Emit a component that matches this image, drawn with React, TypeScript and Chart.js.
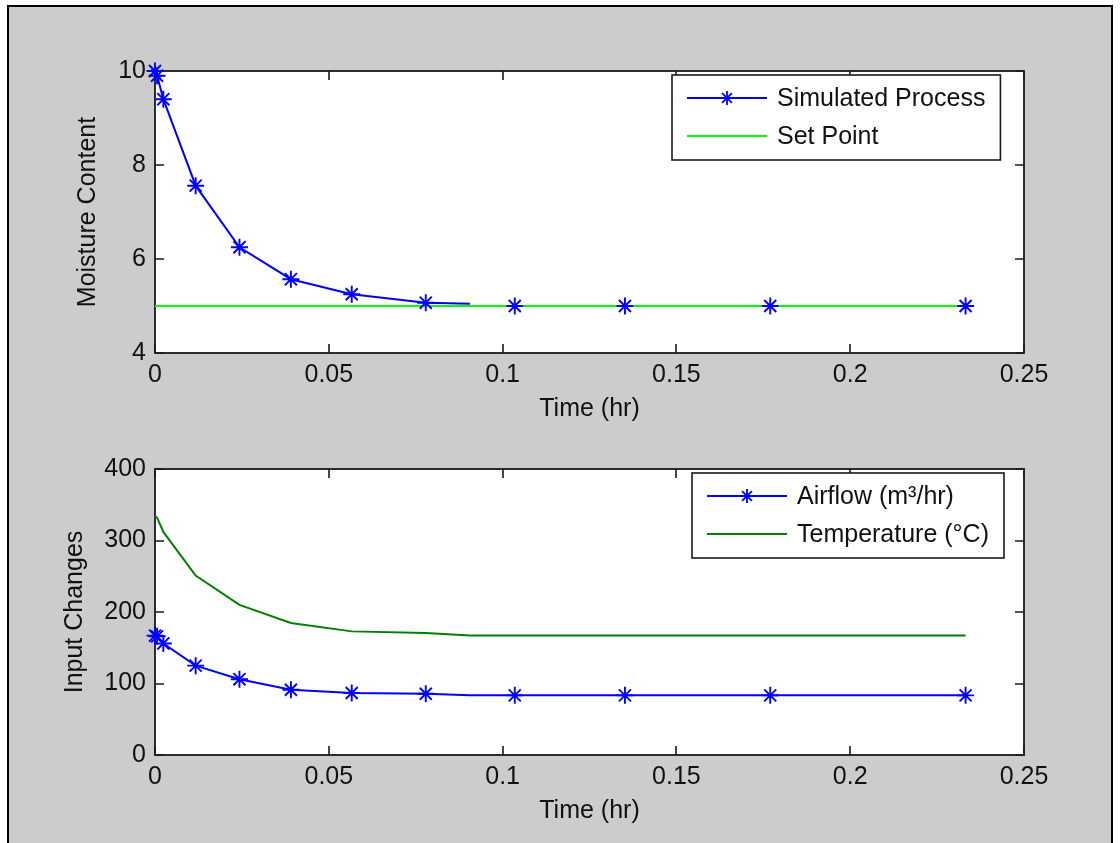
import React, { useEffect, useRef } from 'react';
import { Chart, registerables } from 'chart.js';

Chart.register(...registerables);

// ---------------- data ----------------
const timeHr = [0, 0.0006, 0.0024, 0.0117, 0.0243, 0.0391, 0.0566, 0.0779, 0.0906, 0.1035, 0.1352, 0.177, 0.2332];
const moistureContent = [10, 9.9, 9.4, 7.56, 6.25, 5.57, 5.25, 5.07, 5.05, 5.0, 5.0, 5.0, 5.0];
const markerShown = [true, true, true, true, true, true, true, true, false, true, true, true, true];
const processLineEnd = 0.0906;
const setPointTime = [0, 0.2332];
const setPointValue = [5, 5];
const airflow = [167, 166, 156, 125, 106, 91.3, 86.7, 85.7, 83.4, 83.4, 83.4, 83.4, 83.4];
const temperature = [334, 332, 312, 251, 210, 184.6, 172.9, 170.6, 167.3, 167.3, 167.3, 167.3, 167.3];
const xTicks = [0, 0.05, 0.1, 0.15, 0.2, 0.25];
const xTickLabels = ['0', '0.05', '0.1', '0.15', '0.2', '0.25'];
const moistureTicks = [4, 6, 8, 10];
const inputTicks = [0, 100, 200, 300, 400];

const FONT_FAMILY = '"Liberation Sans", Arial, sans-serif';
const FONT_SIZE = 25;
const TEXT_COLOR = '#111111';

// ---------------- plugins ----------------
const matlabAxes = {
  id: 'matlabAxes',
  beforeDraw(chart: any) {
    const { ctx, chartArea: a } = chart;
    ctx.save();
    ctx.fillStyle = '#ffffff';
    ctx.fillRect(a.left, a.top, a.right - a.left, a.bottom - a.top);
    ctx.restore();
  },
  beforeDatasetsDraw(chart: any) {
    const { ctx, chartArea: a, scales } = chart;
    const len = 9;
    ctx.save();
    ctx.strokeStyle = '#1a1a1a';
    ctx.lineWidth = 1.6;
    ctx.beginPath();
    scales.x.ticks.forEach((t: any) => {
      const px = Math.round(scales.x.getPixelForValue(t.value));
      ctx.moveTo(px, a.bottom);
      ctx.lineTo(px, a.bottom - len);
      ctx.moveTo(px, a.top);
      ctx.lineTo(px, a.top + len);
    });
    scales.y.ticks.forEach((t: any) => {
      const py = Math.round(scales.y.getPixelForValue(t.value));
      ctx.moveTo(a.left, py);
      ctx.lineTo(a.left + len, py);
      ctx.moveTo(a.right, py);
      ctx.lineTo(a.right - len, py);
    });
    ctx.stroke();
    ctx.lineWidth = 1.8;
    ctx.strokeRect(a.left, a.top, a.right - a.left, a.bottom - a.top);
    ctx.restore();
  },
};

function drawStar(ctx: CanvasRenderingContext2D, x: number, y: number, r: number) {
  ctx.beginPath();
  ctx.moveTo(x, y - r);
  ctx.lineTo(x, y + r);
  ctx.moveTo(x - r, y);
  ctx.lineTo(x + r, y);
  const d = r * Math.SQRT1_2;
  ctx.moveTo(x - d, y - d);
  ctx.lineTo(x + d, y + d);
  ctx.moveTo(x - d, y + d);
  ctx.lineTo(x + d, y - d);
  ctx.stroke();
}

const insideLegend = {
  id: 'insideLegend',
  afterDatasetsDraw(chart: any, _args: any, opts: any) {
    const { ctx, chartArea: a } = chart;
    const items = chart.data.datasets.map((ds: any) => ({
      label: ds.label as string,
      color: ds.borderColor as string,
      width: ds.borderWidth as number,
      star: ds.pointStyle === 'star',
    }));
    ctx.save();
    ctx.font = `${FONT_SIZE}px ${FONT_FAMILY}`;
    const maxW = Math.max(...items.map((it: any) => ctx.measureText(it.label).width));
    const pad = 15;
    const sample = 80;
    const gap = 10;
    const rowH = 38;
    const boxW = pad + sample + gap + maxW + pad;
    const boxH = 85;
    const x0 = Math.round(a.right - opts.rightGap - boxW);
    const y0 = Math.round(a.top + opts.topGap);
    ctx.fillStyle = '#ffffff';
    ctx.fillRect(x0, y0, boxW, boxH);
    ctx.strokeStyle = '#1a1a1a';
    ctx.lineWidth = 1.6;
    ctx.strokeRect(x0, y0, boxW, boxH);
    items.forEach((it: any, i: number) => {
      const cy = y0 + 23 + i * rowH;
      ctx.strokeStyle = it.color;
      ctx.lineWidth = it.width;
      ctx.beginPath();
      ctx.moveTo(x0 + pad, cy);
      ctx.lineTo(x0 + pad + sample, cy);
      ctx.stroke();
      if (it.star) {
        ctx.lineWidth = 1.8;
        drawStar(ctx, x0 + pad + sample / 2, cy, 7);
      }
      ctx.fillStyle = TEXT_COLOR;
      ctx.textAlign = 'left';
      ctx.textBaseline = 'middle';
      ctx.fillText(it.label, x0 + pad + sample + gap, cy + 1);
    });
    ctx.restore();
  },
};

// ---------------- helpers ----------------
const pts = (xs: number[], ys: number[]) => xs.map((x, i) => ({ x, y: ys[i] }));

function buildOptions(cfg: {
  yTicks: number[];
  yTitle: string;
  yTitlePad: number;
  xHeight: number;
  xTitlePad: number;
  padTop: number;
  legendRightGap: number;
}) {
  const font = { family: FONT_FAMILY, size: FONT_SIZE };
  return {
    responsive: false,
    animation: false as const,
    events: [] as any[],
    layout: { padding: { top: cfg.padTop, right: 96, left: 0, bottom: 0 } },
    plugins: {
      legend: { display: false },
      tooltip: { enabled: false },
      insideLegend: { rightGap: cfg.legendRightGap, topGap: 4 },
    },
    scales: {
      x: {
        type: 'linear' as const,
        min: xTicks[0],
        max: xTicks[xTicks.length - 1],
        grid: { display: false, drawTicks: false },
        border: { display: false },
        afterBuildTicks: (s: any) => {
          s.ticks = xTicks.map((v) => ({ value: v }));
        },
        afterFit: (s: any) => {
          s.height = cfg.xHeight;
        },
        ticks: {
          autoSkip: false,
          maxRotation: 0,
          padding: 7,
          color: TEXT_COLOR,
          font,
          callback: (v: any) => {
            const idx = xTicks.findIndex((t) => Math.abs(t - Number(v)) < 1e-9);
            return idx >= 0 ? xTickLabels[idx] : '';
          },
        },
        title: {
          display: true,
          text: 'Time (hr)',
          color: TEXT_COLOR,
          font,
          padding: { top: 0, bottom: cfg.xTitlePad },
        },
      },
      y: {
        type: 'linear' as const,
        min: cfg.yTicks[0],
        max: cfg.yTicks[cfg.yTicks.length - 1],
        grid: { display: false, drawTicks: false },
        border: { display: false },
        afterBuildTicks: (s: any) => {
          s.ticks = cfg.yTicks.map((v) => ({ value: v }));
        },
        afterFit: (s: any) => {
          s.width = 155;
        },
        ticks: {
          autoSkip: false,
          padding: 9,
          color: TEXT_COLOR,
          font,
          callback: (v: any) => String(v),
        },
        title: {
          display: true,
          text: cfg.yTitle,
          color: TEXT_COLOR,
          font,
          padding: { top: cfg.yTitlePad, bottom: 0 },
        },
      },
    },
  };
}

function MoistureChart() {
  const ref = useRef<HTMLCanvasElement | null>(null);
  useEffect(() => {
    if (!ref.current) return;
    const chart = new Chart(ref.current, {
      type: 'line',
      data: {
        datasets: [
          {
            label: 'Simulated Process',
            data: pts(timeHr, moistureContent),
            borderColor: '#0000ff',
            backgroundColor: '#0000ff',
            borderWidth: 2,
            pointStyle: 'star',
            pointRadius: markerShown.map((m) => (m ? 8.5 : 0)),
            pointBorderWidth: 1.9,
            pointBorderColor: '#0000ff',
            fill: false,
            clip: false,
            segment: {
              borderColor: (c: any) => (c.p0.parsed.x >= processLineEnd - 1e-9 ? 'rgba(0,0,0,0)' : undefined),
            },
          } as any,
          {
            label: 'Set Point',
            data: pts(setPointTime, setPointValue),
            borderColor: '#00ff00',
            backgroundColor: '#00ff00',
            borderWidth: 2,
            pointRadius: 0,
            fill: false,
            clip: false,
          } as any,
        ],
      },
      options: buildOptions({
        yTicks: moistureTicks,
        yTitle: 'Moisture Content',
        yTitlePad: 73,
        xHeight: 87,
        xTitlePad: 16,
        padTop: 71,
        legendRightGap: 24,
      }) as any,
      plugins: [matlabAxes, insideLegend],
    });
    return () => chart.destroy();
  }, []);
  return (
    <canvas
      ref={ref}
      width={1120}
      height={440}
      style={{ position: 'absolute', left: 0, top: 0, width: 1120, height: 440 }}
    />
  );
}

function InputChart() {
  const ref = useRef<HTMLCanvasElement | null>(null);
  useEffect(() => {
    if (!ref.current) return;
    const chart = new Chart(ref.current, {
      type: 'line',
      data: {
        datasets: [
          {
            label: 'Airflow (m³/hr)',
            data: pts(timeHr, airflow),
            borderColor: '#0000ff',
            backgroundColor: '#0000ff',
            borderWidth: 2,
            pointStyle: 'star',
            pointRadius: markerShown.map((m) => (m ? 8.5 : 0)),
            pointBorderWidth: 1.9,
            pointBorderColor: '#0000ff',
            fill: false,
            clip: false,
          } as any,
          {
            label: 'Temperature (°C)',
            data: pts(timeHr, temperature),
            borderColor: '#008000',
            backgroundColor: '#008000',
            borderWidth: 2,
            pointRadius: 0,
            fill: false,
            clip: false,
          } as any,
        ],
      },
      options: buildOptions({
        yTicks: inputTicks,
        yTitle: 'Input Changes',
        yTitlePad: 60,
        xHeight: 88,
        xTitlePad: 17,
        padTop: 29,
        legendRightGap: 20,
      }) as any,
      plugins: [matlabAxes, insideLegend],
    });
    return () => chart.destroy();
  }, []);
  return (
    <canvas
      ref={ref}
      width={1120}
      height={403}
      style={{ position: 'absolute', left: 0, top: 440, width: 1120, height: 403 }}
    />
  );
}

export default function App() {
  return (
    <div
      style={{
        position: 'fixed',
        left: 0,
        top: 0,
        width: 1120,
        height: 843,
        overflow: 'hidden',
        background: '#ffffff',
      }}
    >
      <div
        style={{
          position: 'absolute',
          left: 7,
          top: 5,
          width: 1102,
          height: 850,
          border: '2px solid #000000',
          background: '#cccccc',
        }}
      />
      <MoistureChart />
      <InputChart />
    </div>
  );
}
